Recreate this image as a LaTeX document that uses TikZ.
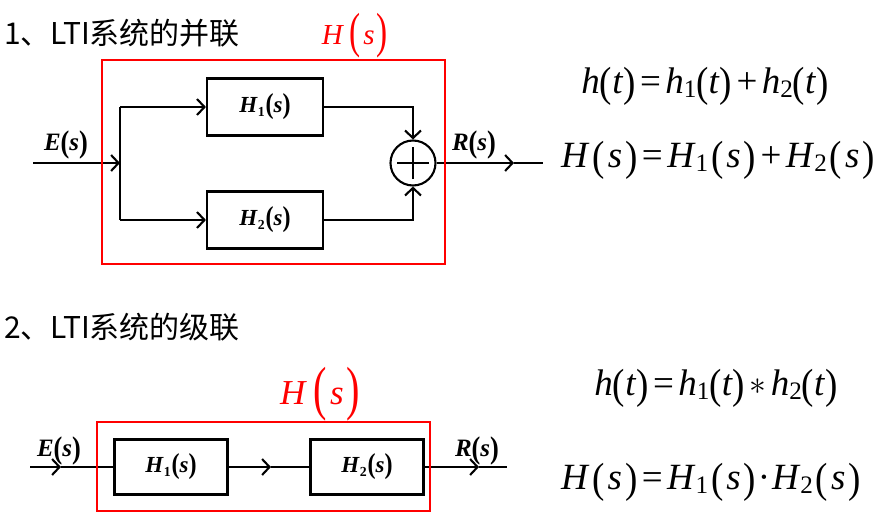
\documentclass[tikz,border=0pt]{standalone}
\usepackage{graphicx}
\usepackage{fontspec}
\IfFontExistsTF{LiberationSerif-Italic.ttf}
 {\setmainfont{LiberationSerif}[Extension=.ttf, UprightFont=*-Regular, ItalicFont=*-Italic, BoldFont=*-Bold, BoldItalicFont=*-BoldItalic]}
 {\setmainfont{Liberation Serif}[ItalicFont={Liberation Serif}, ItalicFeatures={FakeSlant=0.21}]}
\newfontfamily\cjk{Noto Sans CJK SC}
\usetikzlibrary{arrows.meta}
\newcommand\I[1]{\textit{#1}}
\newcommand\sbs[1]{\raisebox{-0.1em}{\scalebox{0.68}{#1}}}
\newcommand\bsbs[1]{\raisebox{-0.2em}{\scalebox{0.6}{#1}}}
\newcommand\LPl{\raisebox{-0.08em}{\scalebox{1.05}[1.25]{(}}}
\newcommand\RPl{\raisebox{-0.08em}{\scalebox{1.05}[1.25]{)}}}
\newcommand\blab[1]{\textbf{\textit{H}\bsbs{#1}\kern0.03em\LPl\textit{s}\RPl}}
\newcommand\lab[1]{\textbf{\textit{#1}\LPl\textit{s}\RPl}}
\newcommand\LPb{\raisebox{-0.12em}{\scalebox{1.15}[1.7]{(}}}
\newcommand\RPb{\raisebox{-0.12em}{\scalebox{1.15}[1.7]{)}}}
\newcommand\redH{\I{H}\kern0.2em\LPb\kern0.08em\I{s}\kern0.08em\RPb}
\newcommand\LP{\raisebox{-0.06em}{\scalebox{1}[1.14]{(}}}
\newcommand\RP{\raisebox{-0.06em}{\scalebox{1}[1.14]{)}}}
\newcommand\spc{\kern0.08em}
\newcommand\op[1]{\kern0.12em#1\kern0.12em}
\newcommand\astop{\kern0.12em\raisebox{0.05em}{\scalebox{1.35}{$\ast$}}\kern0.12em}
\begin{document}
\begin{tikzpicture}[x=1pt,y=-1pt,
  conn/.style={line width=2.1pt, line cap=butt},
  arr/.style={-{Straight Barb[length=7.5pt,width=16pt]}},
  blk/.style={draw, line width=2.1pt, inner sep=0pt, font=\fontsize{23}{23}\selectfont},
  redbox/.style={draw=red, line width=2.9pt, inner sep=0pt},
  lab/.style={inner sep=0pt, font=\fontsize{25}{25}\selectfont},
  eq/.style={inner sep=0pt, font=\fontsize{37}{37}\selectfont},
  ttl/.style={inner sep=0pt, anchor=west, font=\cjk\fontsize{30}{30}\selectfont},
  sumc/.style={draw, circle, line width=2.1pt, minimum size=45pt, inner sep=0pt}]
\useasboundingbox (0,0) rectangle (879,527);

% ---------- parallel ----------
\node[ttl] (t1) at (4,33) {1、LTI系统的并联};
\node[inner sep=0pt, text=red, font=\fontsize{29}{29}\selectfont] (HP) at (355,36) {\redH};

\node[blk, minimum width=116pt, minimum height=57pt] (h1) at (265,107) {\blab{1}};
\node[blk, minimum width=116pt, minimum height=57pt] (h2) at (265,220) {\blab{2}};
\node[sumc] (sum) at (413,163) {};
\draw[line width=1.3pt] ([xshift=-16pt]sum.center) -- ([xshift=16pt]sum.center);
\draw[line width=1.3pt] ([yshift=-16pt]sum.center) -- ([yshift=16pt]sum.center);

\coordinate (in) at (33,163);
\coordinate (j) at (120,163);
\coordinate (jt) at (120,107);
\coordinate (jb) at (120,220);
\coordinate (oa) at (514,163);
\coordinate (out) at (543,163);
\draw[conn,arr] (in) -- (j);
\draw[conn] (jt) -- (jb);
\draw[conn,arr] (jt) -- (h1.west);
\draw[conn,arr] (jb) -- (h2.west);
\draw[conn,arr] (h1.east) -| (sum.north);
\draw[conn,arr] (h2.east) -| (sum.south);
\draw[conn,arr] (sum.east) -- (oa);
\draw[conn] (oa) -- (out);
\node[lab] (E1) at (66,145) {\lab{E}};
\node[lab] (R1) at (474,145) {\lab{R}};

\node[redbox, minimum width=343pt, minimum height=204pt] (P) at (273.5,162) {};

\node[eq] (eq1) at (705,86) {\I{h}\LP\I{t}\RP\op{=}\I{h}\sbs{1}\LP\I{t}\RP\op{+}\I{h}\sbs{2}\LP\I{t}\RP};
\node[eq] (eq2) at (718,160) {\I{H}\spc\LP\spc\I{s}\spc\RP\op{=}\I{H}\sbs{1}\spc\LP\spc\I{s}\spc\RP\op{+}\I{H}\sbs{2}\spc\LP\spc\I{s}\spc\RP};

% ---------- cascade ----------
\node[ttl] (t2) at (4,327) {2、LTI系统的级联};
\node[inner sep=0pt, text=red, font=\fontsize{35}{35}\selectfont] (HC) at (320,394) {\redH};

\node[blk, minimum width=113pt, minimum height=55pt] (b1) at (171,467) {\blab{1}};
\node[blk, minimum width=113pt, minimum height=55pt] (b2) at (367,467) {\blab{2}};
\coordinate (bin) at (30,467);
\coordinate (bia) at (61,467);
\coordinate (bma) at (271,467);
\coordinate (boa) at (479,467);
\coordinate (bout) at (507,467);
\draw[conn,arr] (bin) -- (bia);
\draw[conn] (bia) -- (b1.west);
\draw[conn,arr] (b1.east) -- (bma);
\draw[conn] (bma) -- (b2.west);
\draw[conn,arr] (b2.east) -- (boa);
\draw[conn] (boa) -- (bout);
\node[lab] (E2) at (59,451) {\lab{E}};
\node[lab] (R2) at (477,451) {\lab{R}};

\node[redbox, minimum width=333pt, minimum height=89pt] (C) at (263.5,466.5) {};

\node[eq] (eq3) at (716,388) {\I{h}\LP\I{t}\RP\op{=}\I{h}\sbs{1}\LP\I{t}\RP\astop\I{h}\sbs{2}\LP\I{t}\RP};
\node[eq] (eq4) at (711,482) {\I{H}\spc\LP\spc\I{s}\spc\RP\op{=}\I{H}\sbs{1}\spc\LP\spc\I{s}\spc\RP\kern0.05em·\kern0.05em\I{H}\sbs{2}\spc\LP\spc\I{s}\spc\RP};
\end{tikzpicture}
\end{document}
